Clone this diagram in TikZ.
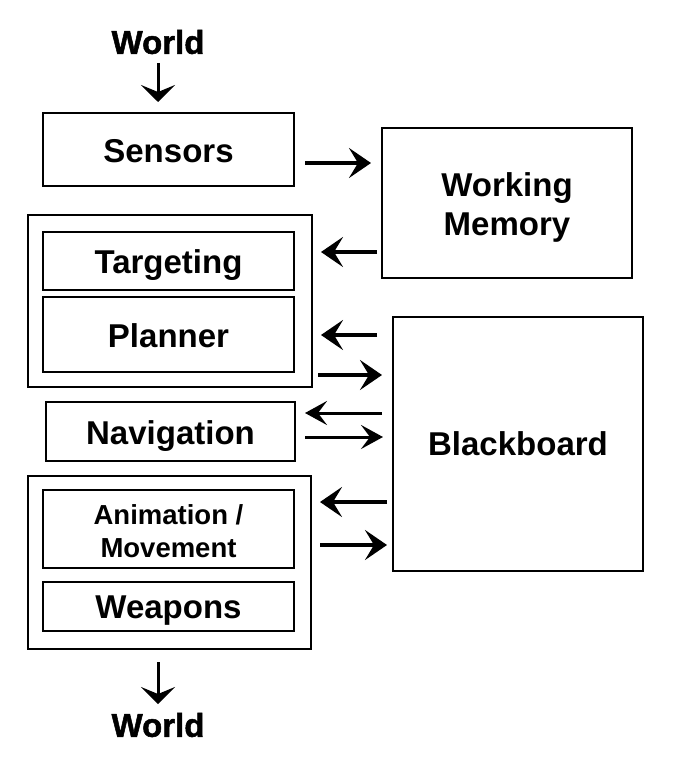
\documentclass[tikz,border=0pt]{standalone}
\usepackage{fontspec}
\setmainfont{Liberation Sans}
\newfontfamily\heavyfont[FakeBold=1.5]{Liberation Sans Bold}
\usetikzlibrary{arrows.meta}
\begin{document}
\begin{tikzpicture}[x=1pt,y=-1pt,
  box/.style={draw,line width=1.6pt,inner sep=0pt},
  txt/.style={inner sep=0pt,align=center,font=\bfseries\fontsize{33}{39}\selectfont},
  thick arrow/.style={line width=4.5pt,-{Stealth[length=22pt,width=30pt,inset=9pt]}},
  thin arrow/.style={line width=3pt,-{Stealth[length=22pt,width=24pt,inset=9pt]}},
  vert arrow/.style={line width=3pt,-{Stealth[length=17pt,width=34pt,inset=7pt]}},
  lbl/.style={font=\heavyfont\fontsize{33}{36}\selectfont,inner sep=0pt}]
\useasboundingbox (0,0) rectangle (674,768);
% boxes
\node[box,minimum width=251pt,minimum height=73pt] (sensors) at (168.5,149.5) {};
\node[box,minimum width=250pt,minimum height=150pt] (wm) at (507,203) {};
\node[box,minimum width=284pt,minimum height=172pt] (outer1) at (170,301) {};
\node[box,minimum width=251pt,minimum height=58pt] (targeting) at (168.5,261) {};
\node[box,minimum width=251pt,minimum height=75pt] (planner) at (168.5,334.5) {};
\node[box,minimum width=249pt,minimum height=59pt] (nav) at (170.5,431.5) {};
\node[box,minimum width=250pt,minimum height=254pt] (bb) at (518,444) {};
\node[box,minimum width=283pt,minimum height=173pt] (outer2) at (169.5,562.5) {};
\node[box,minimum width=251pt,minimum height=78pt] (anim) at (168.5,529) {};
\node[box,minimum width=251pt,minimum height=49pt] (weapons) at (168.5,606.5) {};
% texts
\node[txt,yshift=-2pt] (sensorsT) at (sensors.center) {Sensors};
\node[txt,yshift=-4pt] (wmT) at (wm.center) {Working\\Memory};
\node[txt,yshift=-4pt] (targetingT) at (targeting.center) {Targeting};
\node[txt,yshift=-1.5pt] (plannerT) at (planner.center) {Planner};
\node[txt,yshift=-5pt] (navT) at (nav.center) {Navigation};
\node[txt] (bbT) at (bb.center) {Blackboard};
\node[txt,yshift=-2pt,font=\bfseries\fontsize{27.5}{33}\selectfont] (animT) at (anim.center) {Animation /\\Movement};
\node[txt,yshift=-4pt] (weaponsT) at (weapons.center) {Weapons};
% World labels
\node[lbl] (worldtop) at (158,42) {World};
\node[lbl] (worldbot) at (158,725) {World};
% arrow end points
\coordinate (a1s) at (158,63);   \coordinate (a1e) at (158,102);
\coordinate (a2s) at (305,163);  \coordinate (a2e) at (371,163);
\coordinate (a3s) at (377,252);  \coordinate (a3e) at (321,252);
\coordinate (a4s) at (377,335);  \coordinate (a4e) at (321,335);
\coordinate (a5s) at (318,375);  \coordinate (a5e) at (382,375);
\coordinate (a6s) at (382,413);  \coordinate (a6e) at (305,413);
\coordinate (a7s) at (305,437);  \coordinate (a7e) at (383,437);
\coordinate (a8s) at (387,502);  \coordinate (a8e) at (320,502);
\coordinate (a9s) at (320,545);  \coordinate (a9e) at (387,545);
\coordinate (a10s) at (158,662); \coordinate (a10e) at (158,704);
% arrows
\draw[vert arrow] (a1s) -- (a1e);
\draw[thick arrow] (a2s) -- (a2e);
\draw[thick arrow] (a3s) -- (a3e);
\draw[thick arrow] (a4s) -- (a4e);
\draw[thick arrow] (a5s) -- (a5e);
\draw[thin arrow] (a6s) -- (a6e);
\draw[thin arrow] (a7s) -- (a7e);
\draw[thick arrow] (a8s) -- (a8e);
\draw[thick arrow] (a9s) -- (a9e);
\draw[vert arrow] (a10s) -- (a10e);
\end{tikzpicture}
\end{document}
